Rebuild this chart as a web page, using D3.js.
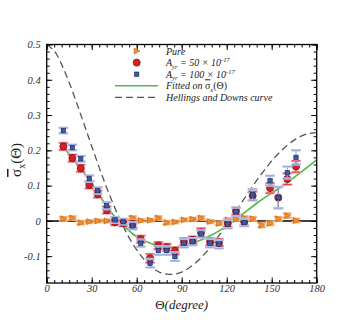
<!DOCTYPE html>
<html>
<head>
<meta charset="utf-8">
<script src="https://cdn.jsdelivr.net/npm/d3@7"></script>
<style>
  body { margin: 0; background: #fff; }
  svg { display: block; }
  text { font-family: "Liberation Serif", "DejaVu Serif", serif; }
</style>
</head>
<body>
<div id="chart"></div>
<script>
// binned angular separations (degrees)
const theta = [11.1, 17.1, 22.7, 28.4, 34.0, 40.0, 45.5, 51.0, 57.3, 62.7, 68.9, 74.4, 80.0, 85.5,
  91.5, 97.3, 102.9, 108.9, 114.9, 120.7, 126.2, 131.7, 137.3, 143.3, 148.9, 154.4, 160.4, 166.2];

// Pure
const pureVal = [0.006, 0.008, -0.005, -0.002, 0.000, 0.000, 0.001, -0.003, 0.008, 0.001, 0.002, 0.008, -0.005, -0.003,
  0.003, 0.005, 0.008, -0.002, -0.007, 0.003, 0.005, 0.008, 0.006, -0.012, -0.007, 0.006, 0.015, 0.001];
const pureErr = [0.005, 0.005, 0.005, 0.004, 0.004, 0.004, 0.004, 0.004, 0.005, 0.004, 0.004, 0.005, 0.005, 0.004,
  0.004, 0.004, 0.005, 0.004, 0.005, 0.004, 0.004, 0.005, 0.005, 0.006, 0.005, 0.005, 0.006, 0.005];

// A_yr = 50e-17
const a50Val = [0.211, 0.178, 0.149, 0.102, 0.076, 0.031, -0.004, -0.007, -0.009, -0.052, -0.106, -0.070, -0.075, -0.085,
  -0.059, -0.054, -0.033, -0.059, -0.061, -0.007, 0.028, -0.003, 0.071, null, 0.093, 0.066, 0.119, 0.154];
const a50Err = [0.010, 0.010, 0.010, 0.010, 0.010, 0.010, 0.008, 0.008, 0.010, 0.010, 0.012, 0.010, 0.010, 0.010,
  0.010, 0.010, 0.012, 0.010, 0.010, 0.010, 0.010, 0.010, 0.012, null, 0.014, 0.030, 0.016, 0.016];

// A_yr = 100e-17
const a100Val = [0.256, 0.208, 0.176, 0.120, 0.086, 0.043, 0.003, -0.002, -0.014, -0.063, -0.120, -0.084, -0.084, -0.101,
  -0.063, -0.059, -0.037, -0.063, -0.066, -0.009, 0.026, -0.005, 0.074, null, 0.114, 0.066, 0.137, 0.180];
const a100Err = [0.008, 0.008, 0.008, 0.009, 0.009, 0.010, 0.008, 0.008, 0.010, 0.010, 0.012, 0.012, 0.012, 0.012,
  0.012, 0.010, 0.010, 0.012, 0.012, 0.012, 0.012, 0.010, 0.016, null, 0.014, 0.030, 0.017, 0.020];

// fitted curve
const fitTheta = [9.3, 17, 30, 40, 48, 60, 70, 80, 90, 100, 110, 120, 130, 140, 150, 160, 170, 180];
const fitVal = [0.220, 0.178, 0.107, 0.041, 0.000, -0.045, -0.065, -0.073, -0.071, -0.059, -0.040, -0.014,
  0.017, 0.050, 0.079, 0.107, 0.140, 0.173];

// Hellings and Downs curve
const hdTheta = [0, 5, 10, 15, 20, 25, 30, 35, 40, 45, 50, 55, 60, 65, 70, 75, 80, 85, 90,
  95, 100, 105, 110, 115, 120, 125, 130, 135, 140, 145, 150, 155, 160, 165, 170, 175, 180];
const hdVal = [0.500, 0.482, 0.443, 0.392, 0.334, 0.273, 0.212, 0.151, 0.094, 0.041, -0.006, -0.048, -0.082,
  -0.110, -0.131, -0.145, -0.151, -0.151, -0.145, -0.133, -0.116, -0.095, -0.069, -0.041, -0.011, 0.020,
  0.052, 0.084, 0.115, 0.143, 0.170, 0.193, 0.213, 0.229, 0.241, 0.248, 0.250];

const xMajor = [0, 30, 60, 90, 120, 150, 180];
const yMajor = [-0.1, 0, 0.1, 0.2, 0.3, 0.4, 0.5];

const W = 360, H = 320;
const margin = {top: 44.5, right: 43.3, bottom: 37, left: 46.7};
const width = W - margin.left - margin.right;
const height = H - margin.top - margin.bottom;

const svg = d3.select("#chart").append("svg")
  .attr("width", W)
  .attr("height", H);

const g = svg.append("g")
  .attr("transform", "translate(" + margin.left + "," + margin.top + ")");

const x = d3.scaleLinear().domain([0, 180]).range([0, width]);
const y = d3.scaleLinear().domain([-0.176, 0.5]).range([height, 0]);

const xMinor = d3.range(0, 181, 5);
const yMinor = d3.range(-16, 51, 2).map(d => d / 100);
const fmtY = d => d === 0 ? "0" : String(+d.toFixed(1));

// axes with inward ticks
function addAxis(axis, tr, cls) {
  const a = g.append("g").attr("class", cls).attr("transform", tr).call(axis);
  a.select(".domain").remove();
  a.selectAll("line").attr("stroke", "#000").attr("stroke-width", 1);
  return a;
}

addAxis(d3.axisBottom(x).tickValues(xMinor).tickSize(-3).tickFormat(""), `translate(0,${height})`, "xminor");
addAxis(d3.axisTop(x).tickValues(xMinor).tickSize(-3).tickFormat(""), "translate(0,0)", "xminor");
addAxis(d3.axisLeft(y).tickValues(yMinor).tickSize(-3).tickFormat(""), "translate(0,0)", "yminor");
addAxis(d3.axisRight(y).tickValues(yMinor).tickSize(-3).tickFormat(""), `translate(${width},0)`, "yminor");

const xb = addAxis(d3.axisBottom(x).tickValues(xMajor).tickSize(-5.5).tickPadding(2).tickFormat(d3.format("d")),
  `translate(0,${height})`, "xmajor");
addAxis(d3.axisTop(x).tickValues(xMajor).tickSize(-5.5).tickFormat(""), "translate(0,0)", "xmajor");
const yl = addAxis(d3.axisLeft(y).tickValues(yMajor).tickSize(-5.5).tickPadding(6).tickFormat(fmtY),
  "translate(0,0)", "ymajor");
addAxis(d3.axisRight(y).tickValues(yMajor).tickSize(-5.5).tickFormat(""), `translate(${width},0)`, "ymajor");

[xb, yl].forEach(a => a.selectAll("text")
  .style("font-family", "'Liberation Serif', serif")
  .style("font-style", "italic")
  .style("font-size", "10.5px")
  .attr("fill", "#333"));

// zero line
g.append("line")
  .attr("x1", 0).attr("x2", width)
  .attr("y1", y(0)).attr("y2", y(0))
  .attr("stroke", "#000").attr("stroke-width", 1.5);

// curves
const smooth = d3.line().x(d => x(d[0])).y(d => y(d[1])).curve(d3.curveCatmullRom);
g.append("path")
  .datum(hdTheta.map((t, i) => [t, hdVal[i]]))
  .attr("d", smooth)
  .attr("fill", "none")
  .attr("stroke", "#555")
  .attr("stroke-width", 1.3)
  .attr("stroke-dasharray", "7,4");

g.append("path")
  .datum(fitTheta.map((t, i) => [t, fitVal[i]]))
  .attr("d", smooth)
  .attr("fill", "none")
  .attr("stroke", "#4cbb47")
  .attr("stroke-width", 1.6);

// error bars
function errorBars(vals, errs, light, dark, capW) {
  const data = theta.map((t, i) => ({t: t, v: vals[i], e: errs[i]})).filter(d => d.v !== null);
  const eg = g.append("g");
  data.forEach(d => {
    const cx = x(d.t), y0 = y(d.v - d.e), y1 = y(d.v + d.e);
    eg.append("line").attr("x1", cx).attr("x2", cx).attr("y1", y0).attr("y2", y1)
      .attr("stroke", dark).attr("stroke-width", 1.1);
    [y0, y1].forEach(yy => {
      eg.append("line").attr("x1", cx - capW).attr("x2", cx + capW).attr("y1", yy).attr("y2", yy)
        .attr("stroke", light).attr("stroke-width", 2.4);
      eg.append("line").attr("x1", cx - capW + 1).attr("x2", cx + capW - 1).attr("y1", yy).attr("y2", yy)
        .attr("stroke", dark).attr("stroke-width", 0.8);
    });
  });
  return data;
}

const triPath = "M-2.5,-3 L3.3,0 L-2.5,3 Z";

// Pure
const pureData = errorBars(pureVal, pureErr, "#f9c08a", "#f08a2c", 4.5);
g.append("g").selectAll("path").data(pureData).join("path")
  .attr("d", triPath)
  .attr("transform", d => `translate(${x(d.t)},${y(d.v)})`)
  .attr("fill", "#f4902e")
  .attr("stroke", "#b85c14")
  .attr("stroke-width", 0.6);

// A50
const a50Data = errorBars(a50Val, a50Err, "#f2a3ab", "#d8202c", 5);
g.append("g").selectAll("circle").data(a50Data).join("circle")
  .attr("cx", d => x(d.t)).attr("cy", d => y(d.v))
  .attr("r", 3.6)
  .attr("fill", "#d42129")
  .attr("stroke", "#5a1010")
  .attr("stroke-width", 0.6);

// A100
const a100Data = errorBars(a100Val, a100Err, "#bcc8ea", "#8d9fd6", 5);
g.append("g").selectAll("rect").data(a100Data).join("rect")
  .attr("x", d => x(d.t) - 2.2).attr("y", d => y(d.v) - 2.2)
  .attr("width", 4.4).attr("height", 4.4)
  .attr("fill", "#3c5aa6")
  .attr("stroke", "#1b2856")
  .attr("stroke-width", 0.6);

// frame
g.append("rect")
  .attr("width", width).attr("height", height)
  .attr("fill", "none")
  .attr("stroke", "#000")
  .attr("stroke-width", 1.3);

// axis titles
const xt = svg.append("text")
  .attr("x", margin.left + width / 2)
  .attr("y", 309)
  .attr("text-anchor", "middle")
  .style("font-size", "13px")
  .attr("fill", "#222");
xt.append("tspan").text("\u0398");
xt.append("tspan").style("font-style", "italic").text("(degree)");

const yt = svg.append("text")
  .attr("transform", "translate(21,160) rotate(-90)")
  .attr("text-anchor", "middle")
  .style("font-size", "15px")
  .attr("fill", "#222");
yt.append("tspan").style("text-decoration", "overline").text("\u03C3");
yt.append("tspan").attr("dy", 4).style("font-size", "10px").text("x");
yt.append("tspan").attr("dy", -4).text("(\u0398)");

// legend
const lx = 136.7, tx = 166, ly0 = 51, lstep = 11.6;
const leg = svg.append("g");
leg.append("path").attr("d", triPath)
  .attr("transform", `translate(${lx},${ly0})`)
  .attr("fill", "#f4902e").attr("stroke", "#b85c14").attr("stroke-width", 0.6);
leg.append("circle").attr("cx", lx).attr("cy", ly0 + lstep).attr("r", 3.6)
  .attr("fill", "#d42129").attr("stroke", "#5a1010").attr("stroke-width", 0.6);
leg.append("rect").attr("x", lx - 2.2).attr("y", ly0 + 2 * lstep - 2.2).attr("width", 4.4).attr("height", 4.4)
  .attr("fill", "#3c5aa6").attr("stroke", "#1b2856").attr("stroke-width", 0.6);
leg.append("line").attr("x1", 115).attr("x2", 158).attr("y1", ly0 + 3 * lstep).attr("y2", ly0 + 3 * lstep)
  .attr("stroke", "#4cbb47").attr("stroke-width", 1.6);
leg.append("line").attr("x1", 115).attr("x2", 158).attr("y1", ly0 + 4 * lstep).attr("y2", ly0 + 4 * lstep)
  .attr("stroke", "#555").attr("stroke-width", 1.3).attr("stroke-dasharray", "7,4");

function legText(i) {
  return leg.append("text")
    .attr("x", tx).attr("y", ly0 + i * lstep + 3.5)
    .style("font-size", "10px")
    .style("font-style", "italic")
    .attr("fill", "#222");
}
legText(0).text("Pure");
["50", "100"].forEach((v, k) => {
  const t = legText(k + 1);
  t.append("tspan").text("A");
  t.append("tspan").attr("dy", 2.5).style("font-size", "6.5px").text("yr");
  t.append("tspan").attr("dy", -2.5).text(" = " + v + " \u00D7 10");
  t.append("tspan").attr("dy", -4).style("font-size", "6.5px").text("-17");
});
const ft = legText(3);
ft.append("tspan").text("Fitted on ");
ft.append("tspan").style("font-style", "normal").style("text-decoration", "overline").text("\u03C3");
ft.append("tspan").attr("dy", 2.5).style("font-size", "6.5px").text("x");
ft.append("tspan").attr("dy", -2.5).style("font-style", "normal").text("(\u0398)");
legText(4).text("Hellings and Downs curve");
</script>
</body>
</html>
